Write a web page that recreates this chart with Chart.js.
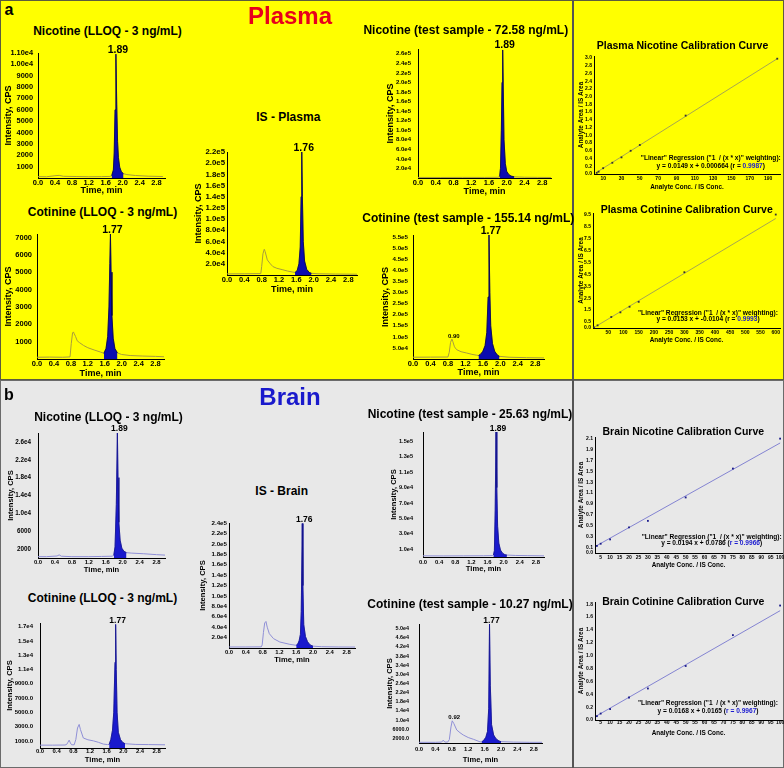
<!DOCTYPE html>
<html>
<head>
<meta charset="utf-8">
<title>Nicotine and cotinine chromatograms</title>
<script src="https://cdn.jsdelivr.net/npm/chart.js@4.4.1/dist/chart.umd.min.js"></script>
<style>
  html, body { margin: 0; padding: 0; }
  body { position: relative; width: 784px; height: 768px; overflow: hidden; background: #fff;
         font-family: "Liberation Sans", Arial, sans-serif; }
  .panel { position: absolute; box-sizing: border-box; }
  #panelA { left: 0; top: 0; width: 784px; height: 380px; background: #ffff00; border: 1px solid #5c5c3d; }
  #panelB { left: 0; top: 380px; width: 784px; height: 388px; background: #e8e8e8; border: 1px solid #6b6b6b; }
  .rule { position: absolute; width: 2px; background: #555; }
  .txt { position: absolute; white-space: pre; font-weight: bold; line-height: 1; transform: translate(-50%, -50%); }
  canvas { position: absolute; }
</style>
</head>
<body>
<div class="panel" id="panelA"></div>
<div class="panel" id="panelB"></div>
<div class="rule" style="left:572px;top:0;height:380px"></div>
<div class="rule" style="left:572px;top:380px;height:388px"></div>
<script>
const timeTicks = ['0.0', '0.4', '0.8', '1.2', '1.6', '2.0', '2.4', '2.8'];

// ---- plasma chromatograms ----
const pNicLloqTime = [0.00, 0.20, 0.40, 0.50, 0.60, 0.90, 1.20, 1.50, 1.70, 1.74, 1.78, 1.80, 1.82, 1.84, 1.86, 1.88, 1.90, 1.93, 1.97, 2.02, 2.10, 2.30, 2.60, 2.95];
const pNicLloqCps = [120, 110, 200, 230, 150, 130, 110, 120, 140, 200, 700, 2200, 6000, 10900, 6500, 3200, 1800, 950, 550, 380, 300, 220, 160, 130];
const pNicLloqPeak = [1.73, 2.03];
const pNicLloqRt = '1.89';
const pNicLloqTicks = ['1000', '2000', '3000', '4000', '5000', '6000', '7000', '8000', '9000', '1.00e4', '1.10e4'];

const pCotLloqTime = [0.00, 0.30, 0.60, 0.78, 0.81, 0.84, 0.86, 0.88, 0.91, 0.95, 1.00, 1.10, 1.20, 1.35, 1.50, 1.58, 1.63, 1.67, 1.70, 1.72, 1.735, 1.75, 1.77, 1.80, 1.84, 1.90, 2.00, 2.20, 2.50, 2.80, 3.00];
const pCotLloqCps = [100, 110, 100, 120, 900, 1500, 1560, 1450, 1300, 1050, 950, 780, 650, 520, 400, 330, 600, 1300, 3000, 5500, 7200, 5000, 2500, 1200, 600, 350, 260, 200, 170, 150, 130];
const pCotLloqPeak = [1.57, 1.92];
const pCotLloqRt = '1.77';
const pCotLloqTicks = ['1000', '2000', '3000', '4000', '5000', '6000', '7000'];

const pIsTime = [0.00, 0.40, 0.78, 0.80, 0.83, 0.86, 0.88, 0.93, 1.00, 1.06, 1.15, 1.29, 1.40, 1.52, 1.57, 1.62, 1.66, 1.69, 1.71, 1.725, 1.74, 1.76, 1.79, 1.84, 1.90, 1.95, 2.10, 2.50, 3.00];
const pIsCps = [2000, 2200, 2500, 15000, 38000, 46000, 42000, 27000, 20000, 15000, 12000, 9300, 7000, 5200, 4500, 8000, 20000, 50000, 140000, 220000, 140000, 60000, 25000, 10000, 4500, 3000, 2200, 1700, 1400];
const pIsPeak = [1.56, 1.96];
const pIsRt = '1.76';
const pIsTicks = ['2.0e4', '4.0e4', '6.0e4', '8.0e4', '1.0e5', '1.2e5', '1.4e5', '1.6e5', '1.8e5', '2.0e5', '2.2e5'];

const pNicTestTime = [0.00, 0.50, 1.00, 1.50, 1.80, 1.84, 1.86, 1.88, 1.895, 1.91, 1.925, 1.94, 1.97, 2.00, 2.05, 2.10, 2.17, 2.40, 2.70, 3.00];
const pNicTestCps = [1200, 1100, 1300, 1200, 1500, 3000, 20000, 100000, 200000, 268000, 180000, 80000, 30000, 14000, 7000, 4000, 2500, 1600, 1300, 1100];
const pNicTestPeak = [1.83, 2.18];
const pNicTestRt = '1.89';
const pNicTestTicks = ['2.0e4', '4.0e4', '6.0e4', '8.0e4', '1.0e5', '1.2e5', '1.4e5', '1.6e5', '1.8e5', '2.0e5', '2.2e5', '2.4e5', '2.6e5'];

const pCotTestTime = [0.00, 0.40, 0.80, 0.83, 0.86, 0.89, 0.91, 0.95, 1.00, 1.10, 1.23, 1.35, 1.46, 1.50, 1.55, 1.60, 1.65, 1.69, 1.72, 1.74, 1.76, 1.78, 1.82, 1.87, 1.93, 1.98, 2.20, 2.60, 3.00];
const pCotTestCps = [8000, 8500, 9000, 30000, 75000, 90000, 80000, 55000, 42000, 33000, 27000, 21000, 17000, 16000, 22000, 35000, 60000, 120000, 280000, 560000, 300000, 150000, 70000, 35000, 18000, 12000, 8000, 6000, 5000];
const pCotTestPeak = [1.49, 1.99];
const pCotTestRt = '1.77';
const pCotTestMinor = [0.80, 1.00];
const pCotTestMinorRt = '0.90';
const pCotTestTicks = ['5.0e4', '1.0e5', '1.5e5', '2.0e5', '2.5e5', '3.0e5', '3.5e5', '4.0e5', '4.5e5', '5.0e5', '5.5e5'];

// ---- brain chromatograms ----
const bNicLloqTime = [0.00, 0.20, 0.45, 0.50, 0.55, 0.80, 1.20, 1.50, 1.75, 1.79, 1.82, 1.85, 1.875, 1.89, 1.91, 1.94, 1.98, 2.03, 2.09, 2.20, 2.50, 2.80, 3.00];
const bNicLloqCps = [300, 300, 450, 700, 400, 300, 300, 350, 400, 600, 2500, 12000, 28200, 18000, 8000, 4000, 2200, 1500, 1200, 1100, 950, 750, 650];
const bNicLloqPeak = [1.78, 2.10];
const bNicLloqRt = '1.89';
const bNicLloqTicks = ['2000', '6000', '1.0e4', '1.4e4', '1.8e4', '2.2e4', '2.6e4'];

const bCotLloqTime = [0.00, 0.30, 0.60, 0.64, 0.67, 0.70, 0.73, 0.76, 0.82, 0.86, 0.90, 0.94, 0.97, 1.04, 1.15, 1.28, 1.40, 1.52, 1.62, 1.66, 1.70, 1.74, 1.77, 1.80, 1.815, 1.83, 1.85, 1.88, 1.93, 1.98, 2.04, 2.30, 2.60, 3.00];
const bCotLloqCps = [400, 400, 420, 500, 800, 1100, 700, 450, 450, 1200, 2800, 3300, 2600, 1400, 1150, 1000, 800, 550, 480, 500, 1200, 2500, 5000, 12000, 17300, 11000, 5000, 2200, 1200, 800, 600, 500, 480, 450];
const bCotLloqPeak = [1.65, 2.05];
const bCotLloqRt = '1.77';
const bCotLloqTicks = ['1000.0', '3000.0', '5000.0', '7000.0', '9000.0', '1.1e4', '1.3e4', '1.5e4', '1.7e4'];

const bIsTime = [0.00, 0.40, 0.77, 0.79, 0.82, 0.85, 0.88, 0.91, 0.96, 1.06, 1.21, 1.45, 1.60, 1.64, 1.67, 1.70, 1.72, 1.745, 1.76, 1.78, 1.82, 1.87, 1.93, 2.00, 2.20, 2.60, 3.00];
const bIsCps = [2000, 2000, 2200, 6000, 30000, 48000, 51000, 40000, 27500, 18000, 11500, 7000, 5200, 8000, 14000, 26000, 70000, 239000, 120000, 45000, 22000, 12000, 6000, 3500, 2500, 2000, 1800];
const bIsPeak = [1.59, 2.02];
const bIsRt = '1.76';
const bIsTicks = ['2.0e4', '4.0e4', '6.0e4', '8.0e4', '1.0e5', '1.2e5', '1.4e5', '1.6e5', '1.8e5', '2.0e5', '2.2e5', '2.4e5'];

const bNicTestTime = [0.00, 0.50, 1.00, 1.50, 1.72, 1.745, 1.77, 1.79, 1.81, 1.83, 1.85, 1.88, 1.92, 1.97, 2.03, 2.08, 2.30, 2.60, 3.00];
const bNicTestCps = [1500, 1400, 1500, 1600, 1800, 2500, 8000, 60000, 162000, 90000, 40000, 18000, 9000, 5000, 3000, 2500, 2000, 1800, 1500];
const bNicTestPeak = [1.73, 2.09];
const bNicTestRt = '1.89';
const bNicTestTicks = ['1.0e4', '3.0e4', '5.0e4', '7.0e4', '9.0e4', '1.1e5', '1.3e5', '1.5e5'];

const bCotTestTime = [0.00, 0.40, 0.55, 0.59, 0.63, 0.70, 0.74, 0.78, 0.81, 0.85, 0.92, 1.00, 1.08, 1.20, 1.33, 1.49, 1.53, 1.58, 1.63, 1.67, 1.70, 1.72, 1.74, 1.77, 1.82, 1.88, 1.95, 2.00, 2.30, 2.70, 3.00];
const bCotTestCps = [300, 300, 400, 1200, 400, 400, 1500, 7000, 9700, 8500, 5700, 4500, 3500, 2400, 1600, 500, 500, 1200, 2500, 5000, 15000, 52000, 25000, 8000, 3500, 1800, 900, 600, 400, 300, 300];
const bCotTestPeak = [1.52, 2.01];
const bCotTestRt = '1.77';
const bCotTestMinor = [0.70, 1.00];
const bCotTestMinorRt = '0.92';
const bCotTestTicks = ['2000.0', '6000.0', '1.0e4', '1.4e4', '1.8e4', '2.2e4', '2.6e4', '3.0e4', '3.4e4', '3.8e4', '4.2e4', '4.6e4', '5.0e4'];

// ---- calibration curves ----
const pNicCalX = [3, 5, 10, 20, 30, 40, 50, 100, 200];
const pNicCalY = [0.03, 0.06, 0.15, 0.29, 0.43, 0.60, 0.75, 1.51, 2.98];
const pNicFitX = [3, 200];
const pNicFitY = [0.045, 2.98];
const pNicCalXTicks = ['10', '30', '50', '70', '90', '110', '130', '150', '170', '190'];
const pNicCalYTicks = ['0.0', '0.2', '0.4', '0.6', '0.8', '1.0', '1.2', '1.4', '1.6', '1.8', '2.0', '2.2', '2.4', '2.6', '2.8', '3.0'];

const pCotCalX = [3, 15, 60, 90, 120, 150, 300, 600];
const pCotCalY = [0.04, 0.22, 0.92, 1.31, 1.78, 2.19, 4.67, 9.50];
const pCotFitX = [3, 600];
const pCotFitY = [0.035, 9.17];
const pCotCalXTicks = ['50', '100', '150', '200', '250', '300', '350', '400', '450', '500', '550', '600'];
const pCotCalYTicks = ['0.0', '0.5', '1.5', '2.5', '3.5', '4.5', '5.5', '6.5', '7.5', '8.5', '9.5'];

const bNicCalX = [3, 5, 10, 20, 30, 50, 75, 100];
const bNicCalY = [0.13, 0.17, 0.25, 0.47, 0.59, 1.02, 1.55, 2.10];
const bNicFitX = [3, 100];
const bNicFitY = [0.137, 2.02];
const bNicCalYTicks = ['0.0', '0.1', '0.3', '0.5', '0.7', '0.9', '1.1', '1.3', '1.5', '1.7', '1.9', '2.1'];

const bCotCalX = [3, 5, 10, 20, 30, 50, 75, 100];
const bCotCalY = [0.06, 0.10, 0.17, 0.35, 0.49, 0.84, 1.32, 1.78];
const bCotFitX = [3, 100];
const bCotFitY = [0.067, 1.70];
const bCotCalYTicks = ['0.0', '0.2', '0.4', '0.6', '0.8', '1.0', '1.2', '1.4', '1.6', '1.8'];

const brainCalXTicks = ['5', '10', '15', '20', '25', '30', '35', '40', '45', '50', '55', '60', '65', '70', '75', '80', '85', '90', '95', '100'];

const regressionHead = '"Linear" Regression ("1  / (x * x)" weighting):';

const FONT = '"Liberation Sans", Arial, sans-serif';
Chart.defaults.font.family = FONT;
Chart.defaults.font.weight = 'bold';
Chart.defaults.color = '#000';
Chart.defaults.animation = false;

const plasmaStyle = { trace: '#a89c3c', fill: '#0b0bb0', edge: '#00004a', tick: 7.5, axis: 9, rt: 10.5 };
const brainStyle = { trace: '#8f8fd6', fill: '#1a1acd', edge: '#10108a', tick: 5.9, axis: 7.6, rt: 8.5 };
const calPlasma = { dot: '#333333', line: '#8f8f66' };
const calBrain = { dot: '#1c1c8c', line: '#6a6acc' };

const chromCharts = [
  { title: 'Nicotine (LLOQ - 3 ng/mL)', st: plasmaStyle, time: pNicLloqTime, cps: pNicLloqCps, peak: pNicLloqPeak, rt: pNicLloqRt, ticks: pNicLloqTicks, yMax: 11000,
    box: { l: 38, r: 165, t: 53, b: 178, yTitleX: 8.3, xLabelY: 182.7, xTitleY: 191, yPad: 5, yTick: 7.4, titleX: 107.5, titleY: 31 } },
  { title: 'Cotinine (LLOQ - 3 ng/mL)', st: plasmaStyle, time: pCotLloqTime, cps: pCotLloqCps, peak: pCotLloqPeak, rt: pCotLloqRt, ticks: pCotLloqTicks, yMax: 7200,
    box: { l: 37.3, r: 164.4, t: 233.8, b: 358.5, yTitleX: 8.3, xLabelY: 362.7, xTitleY: 374, yPad: 5, yTick: 7.5, titleX: 102.5, titleY: 212 } },
  { title: 'IS - Plasma', st: plasmaStyle, time: pIsTime, cps: pIsCps, peak: pIsPeak, rt: pIsRt, ticks: pIsTicks, yMax: 220000,
    box: { l: 227.3, r: 356.9, t: 151.7, b: 275.2, yTitleX: 198.3, xLabelY: 279.3, xTitleY: 289.3, yPad: 2, yTick: 7.8, titleX: 288.3, titleY: 116.7 } },
  { title: 'Nicotine (test sample - 72.58 ng/mL)', st: plasmaStyle, time: pNicTestTime, cps: pNicTestCps, peak: pNicTestPeak, rt: pNicTestRt, ticks: pNicTestTicks, yMax: 270000,
    box: { l: 418.3, r: 550.5, t: 48.6, b: 177.9, yTitleX: 390, xLabelY: 182.7, xTitleY: 191.7, yPad: 7, yTick: 6, titleX: 465.8, titleY: 30 } },
  { title: 'Cotinine (test sample - 155.14 ng/mL)', st: plasmaStyle, time: pCotTestTime, cps: pCotTestCps, peak: pCotTestPeak, rt: pCotTestRt, ticks: pCotTestTicks, yMax: 560000,
    minor: { win: pCotTestMinor, text: pCotTestMinorRt },
    box: { l: 413.3, r: 543.7, t: 235.1, b: 359.4, yTitleX: 385, xLabelY: 362.7, xTitleY: 372.7, yPad: 5, yTick: 6.2, titleX: 468.3, titleY: 218 } },
  { title: 'Nicotine (LLOQ - 3 ng/mL)', st: brainStyle, time: bNicLloqTime, cps: bNicLloqCps, peak: bNicLloqPeak, rt: bNicLloqRt, ticks: bNicLloqTicks, yMax: 28000,
    box: { l: 37.7, r: 165.2, t: 433.4, b: 558.2, yTitleX: 10.5, xLabelY: 562.7, xTitleY: 569.3, yPad: 7, yTick: 6.3, titleX: 108.5, titleY: 416.7 } },
  { title: 'Cotinine (LLOQ - 3 ng/mL)', st: brainStyle, time: bCotLloqTime, cps: bCotLloqCps, peak: bCotLloqPeak, rt: bCotLloqRt, ticks: bCotLloqTicks, yMax: 17500,
    box: { l: 40, r: 165, t: 623.1, b: 747.8, yTitleX: 9.5, xLabelY: 751.7, xTitleY: 759, yPad: 7, yTick: 6, titleX: 102.5, titleY: 598.3 } },
  { title: 'IS - Brain', st: brainStyle, time: bIsTime, cps: bIsCps, peak: bIsPeak, rt: bIsRt, ticks: bIsTicks, yMax: 240000,
    box: { l: 229, r: 355.1, t: 522.7, b: 647.7, yTitleX: 202.5, xLabelY: 652, xTitleY: 659, yPad: 2, yTick: 6.2, titleX: 281.7, titleY: 490.5 } },
  { title: 'Nicotine (test sample - 25.63 ng/mL)', st: brainStyle, time: bNicTestTime, cps: bNicTestCps, peak: bNicTestPeak, rt: bNicTestRt, ticks: bNicTestTicks, yMax: 162000,
    box: { l: 422.7, r: 544.1, t: 431.7, b: 556.5, yTitleX: 393.3, xLabelY: 562.7, xTitleY: 568.3, yPad: 10, yTick: 5.6, titleX: 470, titleY: 413.8 } },
  { title: 'Cotinine (test sample - 10.27 ng/mL)', st: brainStyle, time: bCotTestTime, cps: bCotTestCps, peak: bCotTestPeak, rt: bCotTestRt, ticks: bCotTestTicks, yMax: 52000,
    minor: { win: bCotTestMinor, text: bCotTestMinorRt },
    box: { l: 419.3, r: 541.5, t: 623.8, b: 743, yTitleX: 389.5, xLabelY: 749.3, xTitleY: 759.3, yPad: 10, yTick: 5.4, titleX: 470, titleY: 604 } },
];

const calCharts = [
  { title: 'Plasma Nicotine Calibration Curve', st: calPlasma, xs: pNicCalX, ys: pNicCalY, fitX: pNicFitX, fitY: pNicFitY, xTicks: pNicCalXTicks, yTicks: pNicCalYTicks,
    xMin: 0, xMax: 203, yMax: 3.05, eq: 'y = 0.0149 x + 0.000664 (r = <span class="r">0.9987</span>)',
    box: { l: 593.5, r: 780, t: 56.4, b: 174, yTitleX: 580.5, xLabelY: 179, xTitleY: 186.7, yPad: 2, titleX: 682.5, titleY: 45, eqX: 710.8, eqY1: 158.3, eqY2: 166 } },
  { title: 'Plasma Cotinine Calibration Curve', st: calPlasma, xs: pCotCalX, ys: pCotCalY, fitX: pCotFitX, fitY: pCotFitY, xTicks: pCotCalXTicks, yTicks: pCotCalYTicks,
    xMin: 0, xMax: 614, yMax: 9.63, eq: 'y = 0.0153 x + -0.0104 (r = <span class="r">0.9993</span>)',
    box: { l: 593, r: 780, t: 212.7, b: 327.7, yTitleX: 580.5, xLabelY: 332.7, xTitleY: 340, yPad: 2, titleX: 686.7, titleY: 209.2, eqX: 708, eqY1: 313.3, eqY2: 319.3 } },
  { title: 'Brain Nicotine Calibration Curve', st: calBrain, xs: bNicCalX, ys: bNicCalY, fitX: bNicFitX, fitY: bNicFitY, xTicks: brainCalXTicks, yTicks: bNicCalYTicks,
    xMin: 2, xMax: 101, yMax: 2.13, eq: 'y = 0.0194 x + 0.0786 (<span class="r">r = 0.9966</span>)',
    box: { l: 595, r: 782, t: 436.7, b: 552.7, yTitleX: 580.5, xLabelY: 557.3, xTitleY: 565, yPad: 2, titleX: 683.3, titleY: 430.5, eqX: 711.7, eqY1: 536.7, eqY2: 542.7 } },
  { title: 'Brain Cotinine Calibration Curve', st: calBrain, xs: bCotCalX, ys: bCotCalY, fitX: bCotFitX, fitY: bCotFitY, xTicks: brainCalXTicks, yTicks: bCotCalYTicks,
    xMin: 2, xMax: 101, yMax: 1.835, eq: 'y = 0.0168 x + 0.0165 (<span class="r">r = 0.9967</span>)',
    box: { l: 595, r: 782, t: 601.7, b: 720, yTitleX: 580.5, xLabelY: 723, xTitleY: 733.3, yPad: 2, titleX: 683.3, titleY: 600.5, eqX: 708, eqY1: 703.3, eqY2: 710.7 } },
];

function addText(html, x, y, size, color) {
  const d = document.createElement('div');
  d.className = 'txt';
  d.style.left = x + 'px';
  d.style.top = y + 'px';
  d.style.fontSize = size + 'px';
  d.style.color = color || '#000';
  d.innerHTML = html;
  document.body.appendChild(d);
  return d;
}

// canvas placed so that the plot area lands on box.l/r/t/b
function makeCanvas(box, tickSize, axisSize, padTop, padRight) {
  const l = Math.round(box.l), r = Math.round(box.r), t = Math.round(box.t), b = Math.round(box.b);
  const left = Math.round(box.yTitleX - axisSize * 0.6);
  const top = t - padTop;
  const bottom = Math.round(box.xTitleY + axisSize * 0.6);
  const cv = document.createElement('canvas');
  cv.width = r - left + padRight;
  cv.height = bottom - top;
  cv.style.left = left + 'px';
  cv.style.top = top + 'px';
  document.body.appendChild(cv);
  return { cv, yW: l - left, xH: bottom - b, xPad: Math.max(0, box.xLabelY - b - tickSize * 0.6) };
}

const peakLabels = {
  id: 'peakLabels',
  afterDatasetsDraw(chart, args, opts) {
    const { ctx } = chart;
    const xs = chart.scales.x;
    const ys = chart.scales.y;
    const pts = chart.data.datasets[0].data;
    ctx.save();
    ctx.fillStyle = '#000';
    ctx.textAlign = 'center';
    ctx.textBaseline = 'alphabetic';
    opts.items.forEach((it) => {
      const inWin = pts.filter((p) => p.x >= it.win[0] && p.x <= it.win[1]);
      const top = inWin.reduce((a, p) => (p.y > a.y ? p : a));
      ctx.font = `bold ${it.size}px ${FONT}`;
      ctx.fillText(it.text, xs.getPixelForValue(top.x) + 2, ys.getPixelForValue(top.y) - 1.5);
    });
    ctx.restore();
  },
};

function axis(opts) {
  const labels = opts.labels;
  return {
    type: 'linear',
    min: opts.min,
    max: opts.max,
    afterFit: opts.fit,
    afterBuildTicks: (s) => { s.ticks = labels.map((v) => ({ value: Number(v) })); },
    grid: { display: false, drawTicks: false },
    border: { display: true, color: '#000', width: 1 },
    ticks: { autoSkip: false, maxRotation: 0, padding: opts.pad, color: '#000',
             font: { size: opts.tick, weight: 'bold' }, callback: (v, i) => labels[i] },
    title: { display: true, text: opts.title, padding: 0, color: '#000', font: { size: opts.axis, weight: 'bold' } },
  };
}

chromCharts.forEach((c) => {
  const st = c.st;
  const f = makeCanvas(c.box, st.tick, st.axis, 14, 6);
  const pts = c.time.map((t, i) => ({ x: t, y: c.cps[i] }));
  const peakPts = pts.filter((p) => p.x >= c.peak[0] && p.x <= c.peak[1]);
  const items = [{ win: c.peak, text: c.rt, size: st.rt }];
  if (c.minor) items.push({ win: c.minor.win, text: c.minor.text, size: 6 });

  new Chart(f.cv, {
    type: 'line',
    data: {
      datasets: [
        { data: pts, borderColor: st.trace, borderWidth: 1, pointRadius: 0, fill: false, tension: 0, order: 1 },
        { data: peakPts, borderColor: st.edge, borderWidth: 0.8, backgroundColor: st.fill, fill: 'origin', pointRadius: 0, tension: 0, order: 0 },
      ],
    },
    options: {
      responsive: false,
      animation: false,
      events: [],
      layout: { padding: { top: 14, right: 6, left: 0, bottom: 0 } },
      plugins: { legend: { display: false }, tooltip: { enabled: false }, peakLabels: { items } },
      scales: {
        x: axis({ min: 0, max: 3, labels: timeTicks, pad: f.xPad, tick: st.tick, axis: st.axis, title: 'Time, min',
                  fit: (s) => { s.height = f.xH; } }),
        y: axis({ min: 0, max: c.yMax, labels: c.ticks, pad: c.box.yPad, tick: c.box.yTick, axis: st.axis, title: 'Intensity, CPS',
                  fit: (s) => { s.width = f.yW; } }),
      },
    },
    plugins: [peakLabels],
  });
  addText(c.title, c.box.titleX, c.box.titleY, 12);
});

calCharts.forEach((c) => {
  const f = makeCanvas(c.box, 5, 6.4, 7, 6);
  const pts = c.xs.map((x, i) => ({ x, y: c.ys[i] }));
  const fit = c.fitX.map((x, i) => ({ x, y: c.fitY[i] }));

  new Chart(f.cv, {
    type: 'scatter',
    data: {
      datasets: [
        { data: pts, pointStyle: 'rect', pointRadius: 1.3, backgroundColor: c.st.dot, borderWidth: 0, order: 0 },
        { data: fit, showLine: true, borderColor: c.st.line, borderWidth: 0.8, pointRadius: 0, order: 1 },
      ],
    },
    options: {
      responsive: false,
      animation: false,
      events: [],
      layout: { padding: { top: 7, right: 6, left: 0, bottom: 0 } },
      plugins: { legend: { display: false }, tooltip: { enabled: false } },
      scales: {
        x: axis({ min: c.xMin, max: c.xMax, labels: c.xTicks, pad: f.xPad, tick: 5, axis: 6.4, title: 'Analyte Conc. / IS Conc.',
                  fit: (s) => { s.height = f.xH; } }),
        y: axis({ min: 0, max: c.yMax, labels: c.yTicks, pad: c.box.yPad, tick: 5, axis: 6.4, title: 'Analyte Area / IS Area',
                  fit: (s) => { s.width = f.yW; } }),
      },
    },
  });
  addText(c.title, c.box.titleX, c.box.titleY, 10.5);
  addText(regressionHead, c.box.eqX, c.box.eqY1, 6.6);
  addText(c.eq, c.box.eqX, c.box.eqY2, 6.6);
});

document.querySelectorAll('.r').forEach((s) => { s.style.color = '#1a1ad0'; });

addText('a', 9, 10, 16);
addText('b', 9, 395, 16);
addText('Plasma', 290, 16, 24, '#e8001c');
addText('Brain', 290, 397, 24, '#1a1acc');
</script>
</body>
</html>
